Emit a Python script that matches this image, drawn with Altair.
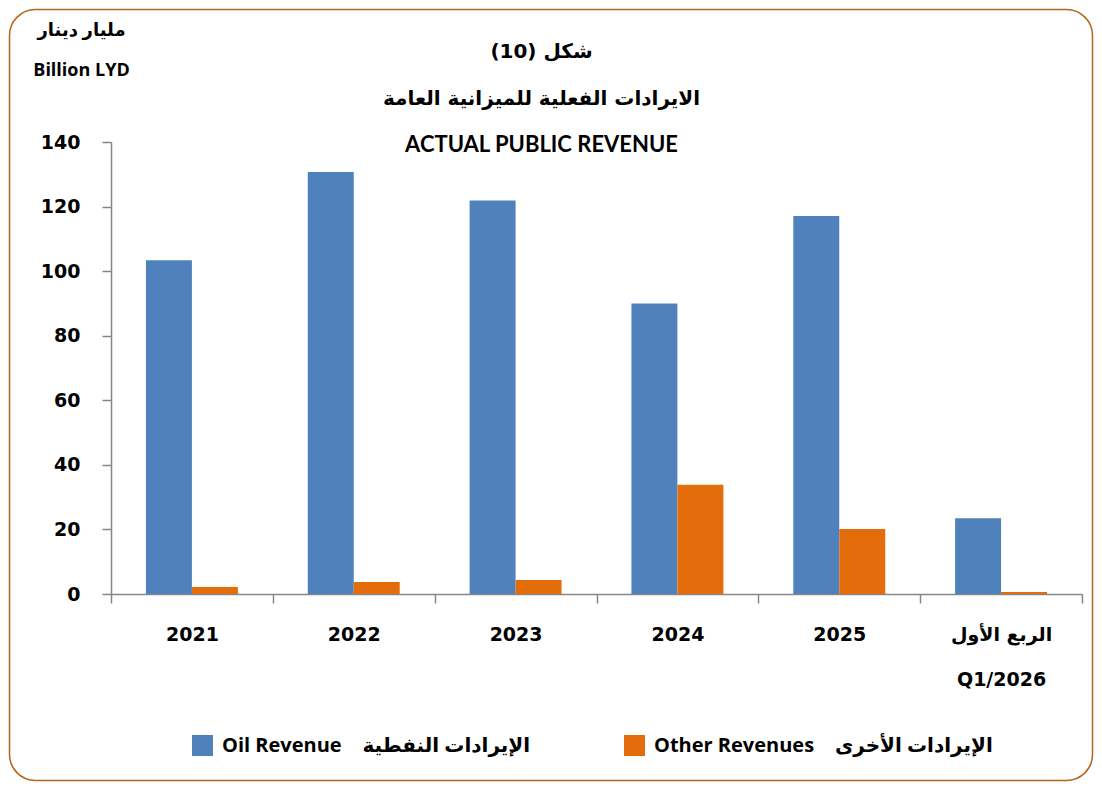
import altair as alt
import pandas as pd

categories = ["2021", "2022", "2023", "2024", "2025", "Q1/2026"]
oil_revenue = [103.4, 130.7, 121.9, 90.0, 117.1, 23.5]
other_revenues = [2.2, 3.7, 4.3, 33.8, 20.1, 0.6]
series_labels = ["Oil Revenue\u00a0\u00a0\u00a0\u00a0الإيرادات النفطية",
                 "Other Revenues\u00a0\u00a0\u00a0\u00a0الإيرادات الأخرى"]
series_colors = ["#4F81BD", "#E46C0A"]
y_ticks = [0, 20, 40, 60, 80, 100, 120, 140]
title_lines = ["شكل (10)", "الايرادات الفعلية للميزانية العامة"]
subtitle_text = "ACTUAL PUBLIC REVENUE"
unit_lines = ["مليار دينار", "Billion LYD"]

rows = []
for i, c in enumerate(categories):
    rows.append({"cat": c, "series": series_labels[0], "order": 0, "value": oil_revenue[i]})
    rows.append({"cat": c, "series": series_labels[1], "order": 1, "value": other_revenues[i]})
df = pd.DataFrame(rows)

FONT = "'DejaVu Sans'"
LFONT = "Lato, 'DejaVu Sans'"
OFONT = "'Open Sans', 'DejaVu Sans'"
GRAY = "#868686"

W, H = 971, 452
PL, PT, PR, PB = 103, 134, 12, 188

border = alt.Chart(pd.DataFrame({"k": [0]})).mark_rect(
    fill=None, stroke="#B5651D", strokeWidth=1.5, cornerRadius=26
).encode(
    x=alt.value(-PL + 1.5), x2=alt.value(W + PR - 1.5),
    y=alt.value(-PT + 1.5), y2=alt.value(H + PB - 1.5),
)

bars = alt.Chart(df).mark_bar().encode(
    x=alt.X("cat:N", sort=categories,
            scale=alt.Scale(paddingInner=0, paddingOuter=0),
            axis=alt.Axis(
                title=None, labelAngle=0, labelFont=FONT, labelFontSize=19,
                labelFontWeight="bold", labelColor="black", labelPadding=31,
                labelBaseline="middle", labelLineHeight=45,
                labelExpr="datum.value == 'Q1/2026' ? ['الربع الأول', 'Q1/2026'] : datum.value",
                tickBand="extent", tickSize=9, tickColor=GRAY, tickWidth=1.5,
                domainColor=GRAY, domainWidth=1.5)),
    xOffset=alt.XOffset("order:O", scale=alt.Scale(paddingInner=0, paddingOuter=0.76)),
    y=alt.Y("value:Q", scale=alt.Scale(domain=[0, 140], nice=False),
            axis=alt.Axis(
                values=y_ticks, grid=False, labelFont=FONT, labelFontSize=19,
                labelFontWeight="bold", labelColor="black", labelPadding=22,
                tickSize=9, tickColor=GRAY, tickWidth=1.5,
                domainColor=GRAY, domainWidth=1.5,
                title=unit_lines, titleAngle=0, titleX=-30, titleY=-112,
                titleAlign="center", titleBaseline="middle", titleFont=OFONT,
                titleFontSize=18, titleFontWeight="bold", titleLineHeight=40,
                titleColor="black")),
    color=alt.Color("series:N", sort=series_labels,
                    scale=alt.Scale(domain=series_labels, range=series_colors),
                    legend=alt.Legend(
                        title=None, orient="none", legendX=81, legendY=593,
                        direction="horizontal", symbolType="square",
                        symbolSize=441, symbolStrokeWidth=0, labelFont=OFONT,
                        labelFontSize=20, labelFontWeight="bold",
                        labelColor="black", labelOffset=9, columnPadding=93,
                        labelLimit=600, padding=0)),
)

chart = alt.layer(border, bars).properties(
    width=W, height=H,
    autosize=alt.AutoSizeParams(type="none"),
    padding={"left": PL, "top": PT, "right": PR, "bottom": PB},
    title=alt.TitleParams(
        text=title_lines, subtitle=subtitle_text, anchor="middle", frame="group",
        orient="top", font=FONT, fontSize=20, fontWeight="bold", color="black",
        lineHeight=47, dx=-55, baseline="middle", offset=-157,
        subtitleFont=LFONT, subtitleFontSize=22, subtitleFontWeight="bold",
        subtitleColor="black", subtitlePadding=26),
).configure_view(stroke=None)

chart.save("out.html", embed_options={"renderer": "svg", "actions": False})
